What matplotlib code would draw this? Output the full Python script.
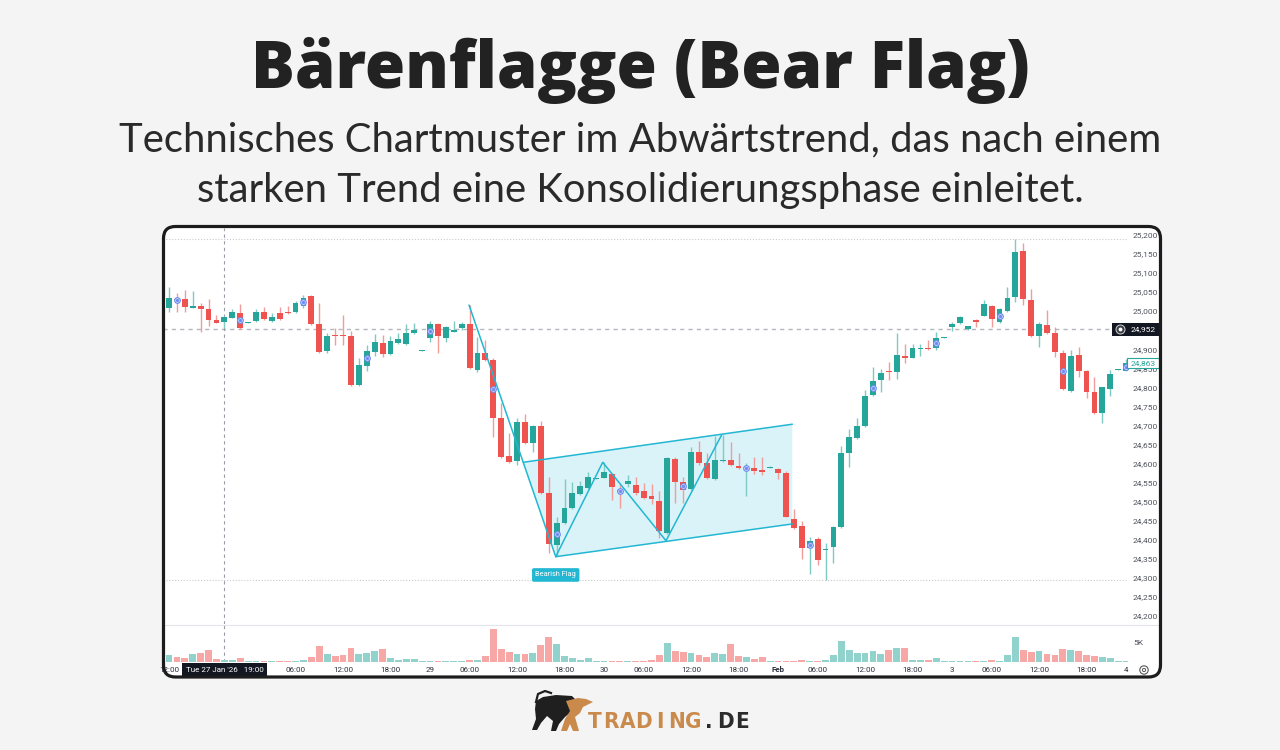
import matplotlib
matplotlib.use('Agg')
import matplotlib.pyplot as plt
from matplotlib.patches import FancyBboxPatch, Rectangle, Polygon, Circle
from matplotlib.transforms import Affine2D, blended_transform_factory
import numpy as np

# ---------------- data ----------------
idx = list(range(-1, 122))
opens = [24997, 25007, 25032, 25032, 25009, 25014, 25005, 24977, 24971, 24983, 24996,
         24969, 24975, 24999, 24974, 24994, 24999, 24997, 25014, 25041, 24966,
         24895, 24936, 24936, 24935, 24806, 24857, 24893, 24916, 24888, 24916,
         24913, 24943, 24897, 24930, 24965, 24930, 24946, 24955, 24966, 24845,
         24891, 24872, 24719, 24620, 24607, 24710, 24654, 24698, 24522, 24386,
         24443, 24482, 24520, 24535, 24560, 24563, 24572, 24530, 24546, 24543,
         24528, 24514, 24501, 24416, 24612, 24550, 24532, 24630, 24600, 24559,
         24606, 24609, 24594, 24586, 24587, 24583, 24590, 24585, 24576, 24453,
         24436, 24377, 24401, 24373, 24381, 24432, 24628, 24667, 24698, 24780,
         24819, 24842, 24839, 24883, 24878, 24902, 24904, 24902, 24930, 24959,
         24968, 24952, 24977, 24988, 25014, 24971, 25000, 25038, 25159, 25029,
         24935, 24964, 24943, 24889, 24790, 24885, 24843, 24788, 24732, 24795,
         24846, 24844]
highs = [25010, 25064, 25048, 25056, 25054, 25021, 25031, 24990, 24987, 25005, 25019,
         24971, 25005, 25010, 24994, 25010, 25014, 25027, 25042, 25042, 25021,
         24942, 24955, 24990, 24948, 24876, 24911, 24940, 24937, 24935, 24942,
         24965, 24968, 24899, 24975, 24968, 24961, 24974, 24972, 25016, 24933,
         24924, 24876, 24758, 24679, 24719, 24730, 24701, 24712, 24564, 24460,
         24558, 24552, 24555, 24577, 24562, 24605, 24575, 24543, 24570, 24564,
         24548, 24546, 24528, 24617, 24616, 24565, 24644, 24660, 24627, 24672,
         24675, 24657, 24627, 24602, 24616, 24616, 24592, 24587, 24580, 24480,
         24450, 24406, 24408, 24390, 24435, 24646, 24690, 24720, 24793, 24852,
         24847, 24867, 24942, 24914, 24913, 24913, 24924, 24946, 24932, 24972,
         24986, 24962, 24979, 25029, 25016, 25008, 25063, 25189, 25178, 25057,
         24972, 25003, 24959, 24898, 24898, 24905, 24846, 24828, 24802, 24845,
         24848, 24874]
lows = [24995, 24999, 24999, 24999, 25007, 24946, 24962, 24968, 24955, 24982, 24953,
        24968, 24972, 24977, 24971, 24977, 24992, 24996, 25007, 24964, 24891,
        24891, 24911, 24911, 24804, 24803, 24844, 24883, 24880, 24885, 24914,
        24911, 24941, 24896, 24920, 24891, 24920, 24944, 24950, 24849, 24841,
        24870, 24670, 24614, 24600, 24596, 24651, 24631, 24520, 24364, 24357,
        24441, 24480, 24517, 24533, 24559, 24562, 24504, 24482, 24539, 24517,
        24506, 24493, 24403, 24414, 24497, 24497, 24530, 24596, 24560, 24557,
        24605, 24594, 24585, 24514, 24572, 24570, 24589, 24558, 24458, 24428,
        24348, 24310, 24333, 24294, 24338, 24430, 24591, 24665, 24696, 24777,
        24788, 24819, 24821, 24863, 24876, 24882, 24898, 24899, 24929, 24949,
        24966, 24950, 24959, 24986, 24958, 24969, 24998, 25025, 25016, 24933,
        24905, 24940, 24879, 24793, 24788, 24828, 24771, 24730, 24707, 24777,
        24845, 24842]
closes = [25009, 25034, 25028, 25012, 25014, 25005, 24977, 24970, 24985, 24999, 24955,
          24970, 24997, 24979, 24985, 24979, 24994, 25022, 25034, 24965, 24893,
          24935, 24934, 24934, 24806, 24859, 24895, 24920, 24887, 24922, 24928,
          24943, 24950, 24898, 24967, 24935, 24958, 24950, 24967, 24850, 24889,
          24872, 24719, 24618, 24605, 24710, 24653, 24698, 24522, 24388, 24444,
          24482, 24522, 24541, 24564, 24561, 24578, 24537, 24525, 24555, 24523,
          24508, 24506, 24423, 24615, 24551, 24530, 24631, 24602, 24561, 24609,
          24609, 24596, 24587, 24588, 24581, 24578, 24591, 24574, 24460, 24430,
          24377, 24397, 24346, 24375, 24434, 24627, 24669, 24698, 24778, 24817,
          24838, 24840, 24885, 24878, 24902, 24904, 24900, 24929, 24931, 24965,
          24984, 24961, 24971, 25018, 24979, 25005, 25035, 25156, 25031, 24935,
          24966, 24942, 24892, 24795, 24882, 24843, 24788, 24732, 24800, 24834,
          24847, 24863]
volumes = [1500, 1660, 1250, 1080, 1910, 2320, 2900, 830, 580, 420, 1080,
           250, 250, 170, 250, 170, 170, 250, 420, 1250, 3980,
           2080, 1410, 1660, 3570, 1910, 2320, 2660, 3150, 1080, 420,
           660, 750, 170, 250, 170, 250, 170, 170, 580, 420,
           1580, 8300, 3150, 2490, 1990, 1990, 2240, 4150, 6230, 4650,
           1410, 910, 580, 1000, 170, 250, 170, 250, 170, 170,
           170, 420, 1660, 4810, 2660, 2410, 2160, 1830, 1330, 2320,
           1990, 4400, 1490, 1160, 660, 1160, 170, 250, 250, 250,
           420, 250, 250, 580, 1740, 5400, 3070, 2240, 2240, 2660,
           2080, 2900, 3400, 3400, 580, 420, 580, 1000, 170, 250,
           170, 250, 170, 250, 420, 330, 1740, 6230, 3070, 2570,
           2740, 2080, 1740, 3320, 2900, 2820, 1740, 1580, 1330, 1000,
           170, 170]

marker_idx = [1, 9, 17, 25, 33, 41, 49, 57, 65, 73, 81, 89, 97, 105, 113, 121]

xtick_pos = [0, 16, 22, 28, 33, 38, 44, 50, 55, 60, 66, 72, 77, 82, 88, 94, 99, 104, 110, 116, 121]
xtick_labels = ['12:00', '06:00', '12:00', '18:00', '29', '06:00', '12:00', '18:00', '30',
                '06:00', '12:00', '18:00', 'Feb', '06:00', '12:00', '18:00', '3',
                '06:00', '12:00', '18:00', '4']
ytick_vals = list(range(24200, 25201, 50))

crosshair_idx = 7
crosshair_label = "Tue 27 Jan '26   19:00"
ref_price = 24952
last_price = 24863

# Bear-flag drawing (index, price)
pole_x = [37.93, 48.89]
pole_y = [25016, 24355]
upper_x = [44.79, 78.80]
upper_y = [24603, 24703]
lower_x = [48.89, 78.80]
lower_y = [24355, 24441]
zig_x = [48.89, 54.83, 62.83, 69.87]
zig_y = [24355, 24603, 24397, 24675]
flag_label_pos = (48.89, 24307)

title = 'Bärenflagge (Bear Flag)'
subtitle1 = 'Technisches Chartmuster im Abwärtstrend, das nach einem'
subtitle2 = 'starken Trend eine Konsolidierungsphase einleitet.'

# ---------------- styling ----------------
TEAL = '#26a69a'
RED = '#ef5350'
TEAL_W = '#7fcac2'
RED_W = '#f29c9a'
TEAL_V = '#92d2cc'
RED_V = '#f7a8a6'
CYAN = '#22b7d2'
CYAN_F = '#daf3f8'

W, H = 1280, 750
fig = plt.figure(figsize=(W / 100, H / 100), dpi=100)
fig.patch.set_facecolor('#f4f4f4')
PX = Affine2D().scale(1 / W, 1 / H) + fig.transFigure


def py(y):
    return H - y


# panel
panel_fill = FancyBboxPatch((163.5, py(677)), 997, 677 - 226.5,
                            boxstyle='round,pad=0,rounding_size=12',
                            transform=PX, fc='white', ec='none', zorder=-2)
fig.add_artist(panel_fill)
panel_border = FancyBboxPatch((163.5, py(677)), 997, 677 - 226.5,
                              boxstyle='round,pad=0,rounding_size=12',
                              transform=PX, fc='none', ec='#1c1c1c', lw=2.3, zorder=20)
fig.add_artist(panel_border)

AX_L, AX_R = 163, 1128
ax = fig.add_axes([AX_L / W, 1 - 624 / H, (AX_R - AX_L) / W, (624 - 228) / H])
axv = fig.add_axes([AX_L / W, 1 - 662 / H, (AX_R - AX_L) / W, (662 - 625) / H])
for a in (ax, axv):
    a.set_facecolor('none')
    for s in a.spines.values():
        s.set_visible(False)

x = np.array(idx, dtype=float)
O = np.array(opens, float)
Hh = np.array(highs, float)
L = np.array(lows, float)
C = np.array(closes, float)
V = np.array(volumes, float)
up = C >= O

# price pane
ax.set_xlim(-0.76, 121.24)
ax.set_ylim(24178.2, 25218.4)
ax.vlines(x, L, Hh, colors=np.where(up, TEAL_W, RED_W), lw=1.0, zorder=3)
diff = np.abs(C - O)
bottom = np.where(diff < 2.8, (O + C) / 2 - 1.4, np.minimum(O, C))
height = np.maximum(diff, 2.8)
ax.bar(x, height, width=0.74, bottom=bottom, color=np.where(up, TEAL, RED), lw=0, zorder=4)

# flag
ax.fill([upper_x[0], upper_x[1], lower_x[1], lower_x[0]],
        [upper_y[0], upper_y[1], lower_y[1], lower_y[0]], color=CYAN_F, lw=0, zorder=2)
for xs, ys in ((pole_x, pole_y), (upper_x, upper_y), (lower_x, lower_y), (zig_x, zig_y)):
    ax.plot(xs, ys, color=CYAN, lw=1.1, zorder=6, solid_capstyle='round')
ax.text(flag_label_pos[0], flag_label_pos[1], 'Bearish Flag', ha='center', va='center',
        fontsize=5.3, color='white', family='Roboto', zorder=7,
        bbox=dict(boxstyle='round,pad=0.45,rounding_size=0.25', fc=CYAN, ec='none'))

# reference lines
ax.axhline(Hh.max(), color='#c9cbd0', lw=0.8, ls=(0, (1, 1.6)), zorder=1)
ax.axhline(L.min(), color='#c9cbd0', lw=0.8, ls=(0, (1, 1.6)), zorder=1)
ax.axhline(ref_price, color='#b4b7be', lw=1.0, ls=(0, (3, 3)), zorder=1)
ax.axvline(crosshair_idx, color='#9a9da6', lw=0.8, ls=(0, (3, 3)), zorder=1)
axv.axvline(crosshair_idx, color='#9a9da6', lw=0.8, ls=(0, (3, 3)), zorder=1)

# event markers
mk_x = np.array(marker_idx, float)
mk_y = np.array([(opens[i + 1] + closes[i + 1]) / 2 for i in marker_idx])
ax.scatter(mk_x, mk_y, s=16, facecolors='white', edgecolors='#6d8cf2', linewidths=0.9, zorder=8)
ax.scatter(mk_x, mk_y, s=2, color='#6d8cf2', zorder=9)

# y axis
ax.yaxis.tick_right()
ax.set_yticks(ytick_vals)
ax.set_yticklabels([f'{v:,}' for v in ytick_vals], family='Roboto')
ax.tick_params(axis='y', length=0, pad=3.5, labelsize=6, labelcolor='#50535e')
ax.set_xticks([])

# price labels
tr = blended_transform_factory(ax.transAxes, ax.transData)


def fx(px):
    return (px - AX_L) / (AX_R - AX_L)


ax.add_patch(Rectangle((fx(1112), ref_price - 16), fx(1159) - fx(1112), 32, transform=tr,
                       fc='#131722', ec='none', clip_on=False, zorder=10))
ax.text(fx(1130.5), ref_price, f'{ref_price:,}', transform=tr, ha='left', va='center',
        fontsize=6, color='white', family='Roboto', zorder=11, clip_on=False)
ax.plot([fx(1119.5)], [ref_price], transform=tr, marker='o', ms=6.5, mfc='#3a3d45',
        mec='#d0d0d0', mew=0.7, clip_on=False, zorder=11)
ax.plot([fx(1119.5)], [ref_price], transform=tr, marker='o', ms=1.8, mfc='white',
        mec='white', clip_on=False, zorder=12)

ax.add_patch(Rectangle((fx(1127), last_price - 13), fx(1159) - fx(1127), 26, transform=tr,
                       fc='white', ec=TEAL, lw=0.8, clip_on=False, zorder=10))
ax.text(fx(1130.5), last_price, f'{last_price:,}', transform=tr, ha='left', va='center',
        fontsize=6, color=TEAL, family='Roboto', zorder=11, clip_on=False)

# volume pane
axv.set_xlim(-0.76, 121.24)
axv.set_ylim(0, 9300)
axv.bar(x, V, width=0.86, color=np.where(up, TEAL_V, RED_V), lw=0, zorder=2)
axv.yaxis.tick_right()
axv.set_yticks([5000])
axv.set_yticklabels(['5K'], family='Roboto')
axv.tick_params(axis='y', length=0, pad=4, labelsize=6, labelcolor='#50535e')
axv.set_xticks([])

fig.add_artist(plt.Line2D([163 / W, 1160 / W], [1 - 624.5 / H, 1 - 624.5 / H],
                          color='#e3e5ea', lw=0.8, zorder=1))

# x labels
trx = blended_transform_factory(axv.transData, axv.transAxes)
lab_y = (662 - 670) / 37
for p, lab in zip(xtick_pos, xtick_labels):
    t = axv.text(p, lab_y, lab, transform=trx, ha='center', va='center', fontsize=5.8,
                 family='Roboto', color='#2a2e39', clip_on=False,
                 fontweight='bold' if lab == 'Feb' else 'normal', zorder=5)
    t.set_clip_path(panel_fill)
axv.text(crosshair_idx, lab_y, crosshair_label, transform=trx, ha='center', va='center',
         fontsize=5.8, family='Roboto', color='white', clip_on=False, zorder=15,
         bbox=dict(boxstyle='square,pad=0.45', fc='#131722', ec='none'))
fig.add_artist(Circle((1144, py(670)), 4.2, transform=PX, fc='none', ec='#555', lw=0.8, zorder=21))
fig.add_artist(Circle((1144, py(670)), 1.6, transform=PX, fc='none', ec='#555', lw=0.7, zorder=21))

# titles
fig.text(0.5, 1 - 88 / H, title, ha='center', va='baseline', fontsize=47,
         fontweight=800, family='Open Sans', color='#222222')
fig.text(0.5, 1 - 151 / H, subtitle1, ha='center', va='baseline', fontsize=28.8,
         family='Lato', color='#2a2a2a')
fig.text(0.5, 1 - 202 / H, subtitle2, ha='center', va='baseline', fontsize=28.8,
         family='Lato', color='#2a2a2a')

# logo
bull_dark = [(536, 701), (543, 697), (556, 695), (572, 696), (578, 702), (572, 711), (565, 717),
             (559, 724), (556, 731), (551, 731), (553, 721), (547, 716), (541, 723), (537, 730),
             (532, 730), (536, 719), (535, 709)]
bull_orange = [(566, 701), (578, 698), (586, 699), (593, 702), (587, 705), (583, 707), (580, 713),
               (575, 717), (577, 724), (579, 731), (573, 731), (570, 724), (567, 731), (561, 731),
               (565, 719), (570, 711)]
fig.add_artist(Polygon([(a, py(b)) for a, b in bull_dark], closed=True, transform=PX,
                       fc='#1f1f1f', ec='none'))
fig.add_artist(Polygon([(a, py(b)) for a, b in bull_orange], closed=True, transform=PX,
                       fc='#c98a4c', ec='none'))
fig.add_artist(plt.Line2D([536 / W, 538 / W, 545 / W, 551 / W],
                          [1 - 702 / H, 1 - 694 / H, 1 - 691 / H, 1 - 693 / H],
                          color='#1f1f1f', lw=1.6))
logo = 'TRADING.DE'
for k, ch in enumerate(logo):
    fig.text((595 + k * 16.3) / W, 1 - 728 / H, ch, ha='center', va='baseline', fontsize=16,
             fontweight='bold', family='DejaVu Sans', fontstretch='condensed',
             color='#c98a4c' if k < 7 else '#2b2b2b')

fig.savefig('out.png', dpi=100, facecolor=fig.get_facecolor())
